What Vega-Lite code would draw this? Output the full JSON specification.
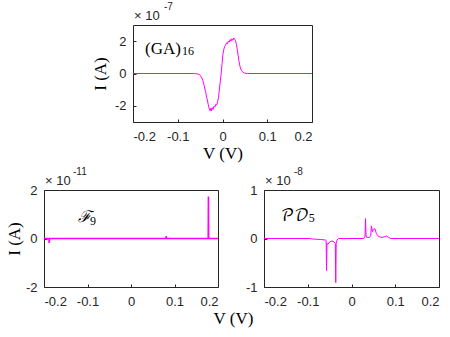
{
  "$schema": "https://vega.github.io/schema/vega-lite/v6.json",
  "padding": {"left": 4, "top": 1, "right": 5, "bottom": 5},
  "background": "white",
  "config": {
    "view": {"stroke": "#262626", "strokeWidth": 1},
    "axis": {"domain": false, "grid": false, "labelFont": "Liberation Sans", "labelFontSize": 13, "labelColor": "#262626", "tickColor": "#262626", "tickSize": -3, "titleFont": "Liberation Serif", "titleFontSize": 17, "titleFontWeight": "normal", "titleColor": "#000000"},
    "axisX": {"labelPadding": 11},
    "axisY": {"labelPadding": 10}
  },
  "datasets": {
    "ga": [
      {"V": -0.2, "I": 0}, {"V": -0.065, "I": 0}, {"V": -0.06, "I": -0.01}, {"V": -0.055, "I": -0.03},
      {"V": -0.051, "I": -0.08}, {"V": -0.047, "I": -0.22}, {"V": -0.044, "I": -0.42}, {"V": -0.041, "I": -0.74},
      {"V": -0.038, "I": -1.1}, {"V": -0.035, "I": -1.5}, {"V": -0.032, "I": -1.9}, {"V": -0.03, "I": -2.15},
      {"V": -0.028, "I": -2.3}, {"V": -0.026, "I": -2.15}, {"V": -0.025, "I": -2.32}, {"V": -0.023, "I": -2.12},
      {"V": -0.021, "I": -2.22}, {"V": -0.019, "I": -2.02}, {"V": -0.017, "I": -2.08}, {"V": -0.015, "I": -1.9},
      {"V": -0.013, "I": -1.95}, {"V": -0.011, "I": -1.75}, {"V": -0.009, "I": -1.5}, {"V": -0.007, "I": -1.0},
      {"V": -0.005, "I": -0.5}, {"V": -0.003, "I": 0}, {"V": -0.001, "I": 0.6}, {"V": 0.001, "I": 1.2},
      {"V": 0.003, "I": 1.5}, {"V": 0.005, "I": 1.68}, {"V": 0.007, "I": 1.75}, {"V": 0.009, "I": 1.9},
      {"V": 0.011, "I": 1.84}, {"V": 0.013, "I": 2.0}, {"V": 0.015, "I": 1.94}, {"V": 0.017, "I": 2.1},
      {"V": 0.019, "I": 2.0}, {"V": 0.021, "I": 2.15}, {"V": 0.023, "I": 2.05}, {"V": 0.025, "I": 2.2},
      {"V": 0.027, "I": 2.12}, {"V": 0.029, "I": 2.05}, {"V": 0.031, "I": 1.8}, {"V": 0.033, "I": 1.5},
      {"V": 0.035, "I": 1.1}, {"V": 0.037, "I": 0.75}, {"V": 0.039, "I": 0.45}, {"V": 0.042, "I": 0.2},
      {"V": 0.046, "I": 0.07}, {"V": 0.05, "I": 0.02}, {"V": 0.056, "I": 0}, {"V": 0.2, "I": 0}
    ],
    "f9": [
      {"V": -0.2, "I": 0}, {"V": -0.1885, "I": 0}, {"V": -0.188, "I": -0.18}, {"V": -0.1875, "I": 0},
      {"V": 0.0805, "I": 0}, {"V": 0.081, "I": 0.1}, {"V": 0.0815, "I": 0},
      {"V": 0.1775, "I": 0}, {"V": 0.178, "I": 1.73}, {"V": 0.1785, "I": 0}, {"V": 0.2, "I": 0}
    ],
    "pd5": [
      {"V": -0.2, "I": 0}, {"V": -0.095, "I": 0}, {"V": -0.09, "I": -0.01}, {"V": -0.07, "I": -0.02},
      {"V": -0.06, "I": -0.03}, {"V": -0.058, "I": -0.04}, {"V": -0.057, "I": -0.66}, {"V": -0.056, "I": -0.1},
      {"V": -0.054, "I": -0.12}, {"V": -0.05, "I": -0.07}, {"V": -0.045, "I": -0.05}, {"V": -0.04, "I": -0.07},
      {"V": -0.037, "I": -0.1}, {"V": -0.036, "I": -0.91}, {"V": -0.035, "I": -0.1}, {"V": -0.033, "I": -0.03},
      {"V": -0.03, "I": 0}, {"V": 0.028, "I": 0}, {"V": 0.031, "I": 0.05}, {"V": 0.032, "I": 0.41},
      {"V": 0.0335, "I": 0.03}, {"V": 0.04, "I": 0.02}, {"V": 0.044, "I": 0.05}, {"V": 0.0455, "I": 0.26},
      {"V": 0.048, "I": 0.14}, {"V": 0.05, "I": 0.19}, {"V": 0.0535, "I": 0.2}, {"V": 0.057, "I": 0.1},
      {"V": 0.062, "I": 0.04}, {"V": 0.07, "I": 0.02}, {"V": 0.076, "I": 0.04}, {"V": 0.08, "I": 0.05},
      {"V": 0.085, "I": 0.02}, {"V": 0.09, "I": 0}, {"V": 0.2, "I": 0}
    ]
  },
  "bounds": "flush",
  "spacing": 165,
  "vconcat": [
    {
      "bounds": "flush",
      "spacing": 10,
      "hconcat": [
        {
          "width": 79, "height": 97,
          "data": {"values": [{}]},
          "mark": {"type": "point", "opacity": 0},
          "encoding": {},
          "view": {"stroke": null}
        },
        {
          "width": 179, "height": 97,
          "data": {"name": "ga"},
          "layer": [
            {
              "mark": {"type": "line", "strokeWidth": 1, "color": "#ff00ff"},
              "encoding": {
                "x": {"field": "V", "type": "quantitative", "scale": {"domain": [-0.2, 0.2], "nice": false, "zero": false},
                      "axis": {"values": [-0.2, -0.1, 0, 0.1, 0.2], "labelExpr": "'' + datum.value", "title": "V (V)", "titleY": 23, "titleBaseline": "top"}},
                "y": {"field": "I", "type": "quantitative", "scale": {"domain": [-3, 3], "nice": false},
                      "axis": {"values": [-2, 0, 2], "labelExpr": "'' + datum.value", "title": "I (A)", "titleX": -33, "titleBaseline": "middle"}}
              }
            },
            {
              "data": {"values": [{}]},
              "mark": {"type": "text", "align": "left", "baseline": "alphabetic", "font": "Liberation Sans", "fontSize": 13, "color": "#262626", "dy": -5, "dx": 1},
              "encoding": {"x": {"datum": -0.2}, "y": {"datum": 3}, "text": {"value": "× 10"}}
            },
            {
              "data": {"values": [{}]},
              "mark": {"type": "text", "align": "left", "baseline": "alphabetic", "font": "Liberation Sans", "fontSize": 10, "color": "#262626", "dy": -15, "dx": 31},
              "encoding": {"x": {"datum": -0.2}, "y": {"datum": 3}, "text": {"value": "-7"}}
            },
            {
              "data": {"values": [{}]},
              "mark": {"type": "text", "align": "left", "baseline": "alphabetic", "font": "Liberation Serif", "fontSize": 17, "color": "#000000"},
              "encoding": {"x": {"datum": -0.173}, "y": {"datum": 1.2}, "text": {"value": "(GA)"}}
            },
            {
              "data": {"values": [{}]},
              "mark": {"type": "text", "align": "left", "baseline": "alphabetic", "font": "Liberation Serif", "fontSize": 12, "color": "#000000"},
              "encoding": {"x": {"datum": -0.0905}, "y": {"datum": 1.14}, "text": {"value": "16"}}
            }
          ]
        }
      ]
    },
    {
      "bounds": "flush",
      "spacing": 46,
      "hconcat": [
        {
          "width": 174, "height": 97,
          "data": {"name": "f9"},
          "layer": [
            {
              "mark": {"type": "line", "strokeWidth": 1.6, "color": "#ff00ff"},
              "encoding": {
                "x": {"field": "V", "type": "quantitative", "scale": {"domain": [-0.2, 0.2], "nice": false, "zero": false},
                      "axis": {"values": [-0.2, -0.1, 0, 0.1, 0.2], "labelExpr": "'' + datum.value", "title": "V (V)", "titleY": 23, "titleX": 189, "titleAlign": "center", "titleBaseline": "top"}},
                "y": {"field": "I", "type": "quantitative", "scale": {"domain": [-2, 2], "nice": false},
                      "axis": {"values": [-2, -1, 0, 1, 2], "labelExpr": "'' + datum.value", "title": "I (A)", "titleX": -30, "titleBaseline": "middle"}}
              }
            },
            {
              "data": {"values": [{}]},
              "mark": {"type": "text", "align": "left", "baseline": "alphabetic", "font": "Liberation Sans", "fontSize": 13, "color": "#262626", "dy": -5, "dx": 1},
              "encoding": {"x": {"datum": -0.2}, "y": {"datum": 2}, "text": {"value": "× 10"}}
            },
            {
              "data": {"values": [{}]},
              "mark": {"type": "text", "align": "left", "baseline": "alphabetic", "font": "Liberation Sans", "fontSize": 10, "color": "#262626", "dy": -15, "dx": 29},
              "encoding": {"x": {"datum": -0.2}, "y": {"datum": 2}, "text": {"value": "-11"}}
            },
            {
              "data": {"values": [{}]},
              "mark": {"type": "text", "align": "left", "baseline": "alphabetic", "font": "DejaVu Serif", "fontSize": 16, "fontStyle": "italic", "color": "#000000"},
              "encoding": {"x": {"datum": -0.122}, "y": {"datum": 0.67}, "text": {"value": "ℱ"}}
            },
            {
              "data": {"values": [{}]},
              "mark": {"type": "text", "align": "left", "baseline": "alphabetic", "font": "Liberation Serif", "fontSize": 12, "color": "#000000"},
              "encoding": {"x": {"datum": -0.094}, "y": {"datum": 0.57}, "text": {"value": "9"}}
            }
          ]
        },
        {
          "width": 175, "height": 97,
          "data": {"name": "pd5"},
          "layer": [
            {
              "mark": {"type": "line", "strokeWidth": 1, "color": "#ff00ff"},
              "encoding": {
                "x": {"field": "V", "type": "quantitative", "scale": {"domain": [-0.2, 0.2], "nice": false, "zero": false},
                      "axis": {"values": [-0.2, -0.1, 0, 0.1, 0.2], "labelExpr": "'' + datum.value", "title": null}},
                "y": {"field": "I", "type": "quantitative", "scale": {"domain": [-1, 1], "nice": false},
                      "axis": {"values": [-1, -0.5, 0, 0.5, 1], "labelExpr": "'' + datum.value", "title": null}}
              }
            },
            {
              "data": {"values": [{}]},
              "mark": {"type": "text", "align": "left", "baseline": "alphabetic", "font": "Liberation Sans", "fontSize": 13, "color": "#262626", "dy": -5, "dx": 1},
              "encoding": {"x": {"datum": -0.2}, "y": {"datum": 1}, "text": {"value": "× 10"}}
            },
            {
              "data": {"values": [{}]},
              "mark": {"type": "text", "align": "left", "baseline": "alphabetic", "font": "Liberation Sans", "fontSize": 10, "color": "#262626", "dy": -15, "dx": 30},
              "encoding": {"x": {"datum": -0.2}, "y": {"datum": 1}, "text": {"value": "-8"}}
            },
            {
              "data": {"values": [{}]},
              "mark": {"type": "text", "align": "left", "baseline": "alphabetic", "font": "DejaVu Math TeX Gyre, DejaVu Serif", "fontSize": 16, "color": "#000000"},
              "encoding": {"x": {"datum": -0.162}, "y": {"datum": 0.37}, "text": {"value": "𝒫𝒟"}}
            },
            {
              "data": {"values": [{}]},
              "mark": {"type": "text", "align": "left", "baseline": "alphabetic", "font": "Liberation Serif", "fontSize": 12, "color": "#000000"},
              "encoding": {"x": {"datum": -0.098}, "y": {"datum": 0.34}, "text": {"value": "5"}}
            }
          ]
        }
      ]
    }
  ]
}
